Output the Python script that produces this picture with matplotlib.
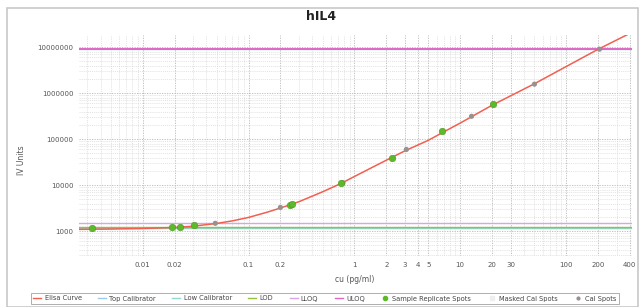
import matplotlib
matplotlib.use("Agg")
import matplotlib.pyplot as plt
from matplotlib.lines import Line2D
from matplotlib.patches import Rectangle
from matplotlib.ticker import FixedLocator, NullFormatter, LogLocator

# ---- data ----
curve_x = [0.0025, 0.005, 0.01, 0.02, 0.03, 0.05, 0.07, 0.1, 0.15, 0.2, 0.3,
           0.5, 0.75, 1, 1.5, 2, 3, 5, 7, 10, 20, 50, 100, 200, 400]
curve_y = [1100, 1120, 1150, 1210, 1290, 1480, 1680, 2000, 2600, 3200, 4400,
           7200, 11000, 15500, 25000, 35000, 56000, 95000, 145000, 225000,
           550000, 1600000, 3800000, 9000000, 20000000]

sample_x = [0.0033, 0.019, 0.0226, 0.0307, 0.248, 0.26, 0.75, 2.29, 6.8, 20.6]
sample_y = [1160, 1220, 1230, 1350, 3700, 3870, 11000, 40000, 148000, 575000]

cal_x = [0.0485, 0.2, 0.78, 3.1, 12.8, 50.3, 207]
cal_y = [1490, 3300, 11300, 60000, 316000, 1580000, 9100000]

uloq = 9000000
top_cal = 9000000
lloq = 1490
lod = 1220
low_cal = 1180

x_ticks = [0.01, 0.02, 0.1, 0.2, 1, 2, 3, 4, 5, 10, 20, 30, 100, 200, 400]
x_tick_labels = ["0.01", "0.02", "0.1", "0.2", "1", "2", "3", "4", "5",
                 "10", "20", "30", "100", "200", "400"]
y_ticks = [1000, 10000, 100000, 1000000, 10000000]
y_tick_labels = ["1000", "10000", "100000", "1000000", "10000000"]

legend_labels = ["Elisa Curve", "Top Calibrator", "Low Calibrator", "LOD",
                 "LLOQ", "ULOQ", "Sample Replicate Spots", "Masked Cal Spots",
                 "Cal Spots"]

# ---- figure ----
fig = plt.figure(figsize=(6.42, 3.07), dpi=100)
fig.patch.set_facecolor("white")
fig.patches.append(Rectangle((7/642, 0.0), 631/642, 1 - 8/307, transform=fig.transFigure,
                             fill=False, edgecolor="#c8c8c8", linewidth=1.2))

ax = fig.add_axes([79/642, 1 - 256/307, (632 - 79)/642, (256 - 35)/307])
ax.set_xscale("log")
ax.set_yscale("log")
ax.set_xlim(0.0025, 420)
ax.set_ylim(290, 1.85e7)

# grid
ax.xaxis.set_minor_locator(LogLocator(base=10, subs=range(2, 10), numticks=20))
ax.yaxis.set_minor_locator(LogLocator(base=10, subs=range(2, 10), numticks=20))
ax.xaxis.set_minor_formatter(NullFormatter())
ax.yaxis.set_minor_formatter(NullFormatter())
ax.grid(True, which="major", color="#b8b8b8", linestyle=(0, (1.5, 1.5)), linewidth=0.6)
ax.grid(True, which="minor", color="#d8d8d8", linestyle=(0, (1.5, 1.5)), linewidth=0.5)
ax.set_axisbelow(True)

ax.xaxis.set_major_locator(FixedLocator(x_ticks))
ax.set_xticks(x_ticks)
ax.set_xticklabels(x_tick_labels)
ax.set_yticks(y_ticks)
ax.set_yticklabels(y_tick_labels)
ax.tick_params(axis="both", which="both", length=0, labelsize=5, labelcolor="#555555", pad=4)

for s in ax.spines.values():
    s.set_visible(False)

# reference lines
ax.axhline(top_cal, color="#9ec8ee", linewidth=1.0, zorder=2)
ax.axhline(uloq, color="#e068c4", linewidth=1.4, zorder=3)
ax.axhline(lloq, color="#d6a6e6", linewidth=1.0, zorder=2)
ax.axhline(low_cal, color="#90d8d0", linewidth=1.0, zorder=2)
ax.axhline(lod, color="#98c040", linewidth=1.0, zorder=2)

# curve
ax.plot(curve_x, curve_y, color="#f06050", linewidth=1.1, zorder=4)

# points
ax.scatter(cal_x, cal_y, s=14, color="#999090", edgecolor="none", zorder=5)
ax.scatter(sample_x, sample_y, s=22, color="#5cba2a", edgecolor="#4a9a20",
           linewidth=0.4, zorder=6)

# text
fig.text(0.5, 1 - 17/307, "hIL4", ha="center", va="center", fontsize=9,
         fontweight="bold", color="#222222")
fig.text(22/642, 1 - 160/307, "IV Units", rotation=90, ha="center", va="center",
         fontsize=5.5, color="#555555")
fig.text(355/642, 1 - 280/307, "cu (pg/ml)", ha="center", va="center",
         fontsize=5.5, color="#555555")

# legend
handles = [
    Line2D([], [], color="#f06050", lw=1),
    Line2D([], [], color="#9ec8ee", lw=1),
    Line2D([], [], color="#90d8d0", lw=1),
    Line2D([], [], color="#98c040", lw=1),
    Line2D([], [], color="#d6a6e6", lw=1),
    Line2D([], [], color="#e068c4", lw=1),
    Line2D([], [], color="#5cba2a", marker="o", ms=3, lw=0),
    Line2D([], [], color="#eeeeee", marker="s", ms=3, lw=0),
    Line2D([], [], color="#999090", marker="o", ms=2, lw=0),
]
leg = fig.legend(handles, legend_labels, loc="center", ncol=9,
                 bbox_to_anchor=(325/642, 1 - 298.5/307), fontsize=4.8,
                 handlelength=1.2, handletextpad=0.5, columnspacing=2.45,
                 frameon=True, fancybox=False, borderpad=0.35)
leg.get_frame().set_edgecolor("#999999")
leg.get_frame().set_linewidth(0.7)
for t in leg.get_texts():
    t.set_color("#444444")

fig.savefig("out.png", dpi=100)
